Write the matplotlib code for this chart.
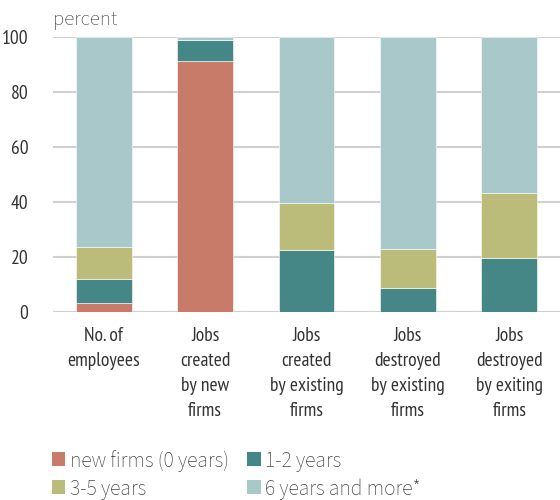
import matplotlib
matplotlib.use("Agg")
import matplotlib.pyplot as plt
import numpy as np
from matplotlib.patches import Patch

categories = [
    "No. of\nemployees",
    "Jobs\ncreated\nby new\nfirms",
    "Jobs\ncreated\nby existing\nfirms",
    "Jobs\ndestroyed\nby existing\nfirms",
    "Jobs\ndestroyed\nby exiting\nfirms",
]
series_names = ["new firms (0 years)", "1-2 years", "3-5 years", "6 years and more*"]
new_firms = [3.2, 91.4, 0.0, 0.0, 0.0]
age_1_2 = [8.9, 7.5, 22.5, 8.6, 19.6]
age_3_5 = [11.6, 0.0, 17.0, 14.4, 23.6]
age_6_plus = [76.3, 1.1, 60.5, 77.0, 56.8]
colors = ["#C87B69", "#458787", "#BBBC7A", "#A8C8CA"]

narrow = "PT Sans Narrow"
regular = "Source Sans 3"
text_col = "#333333"

fig = plt.figure(figsize=(5.6, 5.0), dpi=100)
ax = fig.add_axes([0.095, 0.376, 0.905, 0.55])

x = np.arange(len(categories))
bottom = np.zeros(len(categories))
for vals, col in zip([new_firms, age_1_2, age_3_5, age_6_plus], colors):
    ax.bar(x, vals, width=0.55, bottom=bottom, color=col, edgecolor="#ffffff",
           linewidth=0.4, zorder=3)
    bottom += np.array(vals)

ax.set_xlim(-0.5, 4.5)
ax.set_ylim(0, 100)
ax.set_yticks([0, 20, 40, 60, 80, 100])
ax.yaxis.grid(True, color="#d0d0d0", linewidth=1.5, zorder=0)
ax.set_axisbelow(True)
for s in ax.spines.values():
    s.set_visible(False)
ax.tick_params(axis="both", length=0, colors=text_col)
ax.tick_params(axis="y", pad=18)
ax.tick_params(axis="x", pad=11)
ax.set_xticks(x)
ax.set_xticklabels(categories, fontfamily=narrow, fontsize=14, linespacing=1.5,
                   color=text_col)
for lab in ax.get_yticklabels():
    lab.set_fontfamily(narrow)
    lab.set_fontsize(14)

fig.text(0.095, 0.94, "percent", fontsize=15, color="#444444", ha="left",
         va="bottom", family=regular)

# matplotlib fills legend columns first, so order handles to get rows
order = [0, 2, 1, 3]
handles = [Patch(facecolor=colors[i], edgecolor="none") for i in order]
labels = [series_names[i] for i in order]
fig.legend(handles, labels, loc="lower left", bbox_to_anchor=(0.093, 0.0),
           ncol=2, frameon=False, prop={"family": regular, "size": 15.5},
           labelcolor="#444444", handlelength=0.62, handleheight=0.62,
           handletextpad=0.2, columnspacing=0.85, labelspacing=0.32,
           borderpad=0, borderaxespad=0)

fig.savefig("out.png", dpi=100)
